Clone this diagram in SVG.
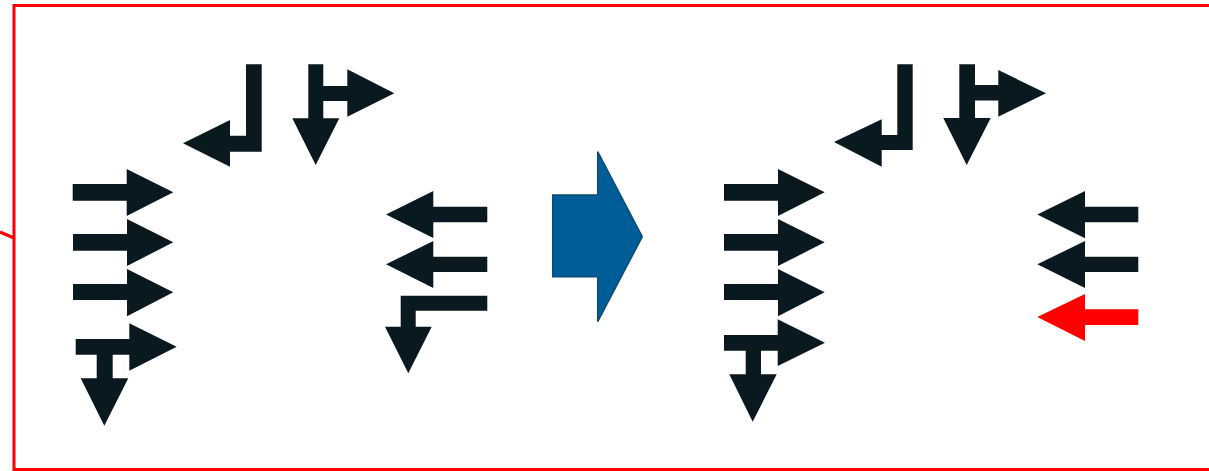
<svg xmlns="http://www.w3.org/2000/svg" width="1209" height="471" viewBox="0 0 1209 471">
<style>
.a{fill:#0A1920}
.r{fill:#FF0000}
.b{fill:#005D98;stroke:#0D4B74;stroke-width:1.5}
.frame{fill:none;stroke:#FF0000;stroke-width:3}
</style>
<rect width="1209" height="471" fill="#FFFFFF"/>
<g id="frame">
<rect class="frame" x="14" y="5.5" width="1300" height="464"/>
<line x1="0" y1="232" x2="14" y2="238" stroke="#FF0000" stroke-width="3"/>
</g>
<g id="before">
<polygon class="a" points="72.7,184 126.7,184 126.7,169 173.3,192.3 126.7,216 126.7,200.7 72.7,200.7"/>
<polygon class="a" points="73,234 127,234 127,219 173.3,242.3 127,266 127,250.7 73,250.7"/>
<polygon class="a" points="73,284 127,284 127,269 173.3,292.3 127,316.3 127,300 73,300"/>
<polygon class="a" points="75.7,339 129.3,339 129.3,323.3 176.7,346.7 129.3,370.7 129.3,354.7 112.7,354.7 112.7,378.3 128.3,378.3 104.3,425.7 80.7,378.3 96.7,378.3 96.7,354.7 75.7,354.7"/>
<polygon class="a" points="246,64.3 261.7,64.3 261.7,151.7 230,151.7 230,166.7 183,143.3 230,120 230,135.7 246,135.7"/>
<polygon class="a" points="308.3,64.3 323.3,64.3 323.3,86 347.3,86 347.3,69.3 394.3,93.3 347.3,116.7 347.3,101 323.3,101 323.3,118.3 339.3,118.3 315.7,165 292.3,118.3 308.3,118.3"/>
<polygon class="a" points="487.3,206.7 433.3,206.7 433.3,191 386,214.5 433.3,238 433.3,222.3 487.3,222.3"/>
<polygon class="a" points="487.3,256.7 433.3,256.7 433.3,241 386,264.3 433.3,288 433.3,272 487.3,272"/>
<polygon class="a" points="487.3,295.7 487.3,310.7 415.7,310.7 415.7,326.7 431.7,326.7 408.3,373.3 385,326.7 400.7,326.7 400.7,295.7"/>
</g>
<g id="transition">
<polygon class="b" points="552.7,195 597.7,195 597.7,151.7 642.3,236.7 597.7,321.7 597.7,276.7 552.7,276.7"/>
</g>
<g id="after">
<polygon class="a" points="724,184 778,184 778,169 824.7,192.3 778,216 778,200.7 724,200.7"/>
<polygon class="a" points="724,234 778,234 778,219 824.7,242.3 778,266 778,250.7 724,250.7"/>
<polygon class="a" points="724,284 778,284 778,269 824.7,292.3 778,316.3 778,300 724,300"/>
<polygon class="a" points="724,335 777.7,335 777.7,319.3 825,342.7 777.7,366 777.7,350.7 761,350.7 761,374.3 776.7,374.3 752.7,421.7 729.3,374.3 745.7,374.3 745.7,350.7 724,350.7"/>
<polygon class="a" points="897.3,64.3 912.7,64.3 912.7,150 881.7,150 881.7,166.7 834,142 881.7,119.3 881.7,135 897.3,135"/>
<polygon class="a" points="959.3,64.3 975,64.3 975,85 998.3,85 998.3,70 1046,93.3 998.3,116.7 998.3,100.5 975,100.5 975,118 990.7,118 966.7,165 943.3,118 959.3,118"/>
<polygon class="a" points="1138.3,206.7 1085,206.7 1085,191 1037.3,214.5 1085,238.3 1085,222.3 1138.3,222.3"/>
<polygon class="a" points="1138.3,256.7 1085,256.7 1085,241 1037.3,264.3 1085,288 1085,272 1138.3,272"/>
<polygon class="r" points="1138.3,309.3 1085,309.3 1085,294 1037.3,317 1085,341 1085,325 1138.3,325"/>
</g>
</svg>
